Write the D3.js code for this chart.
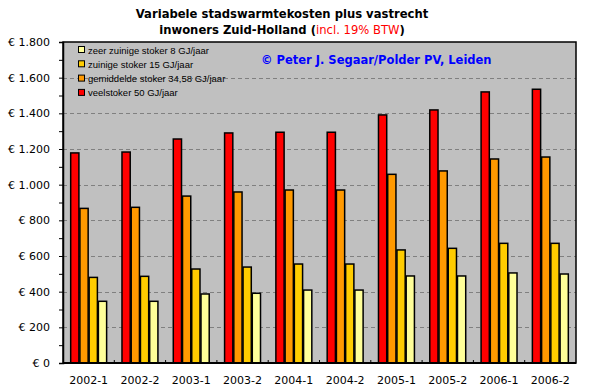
<!DOCTYPE html>
<html><head><meta charset="utf-8">
<script src="https://cdn.jsdelivr.net/npm/d3@7"></script>
<style>body{margin:0;background:#fff}svg{display:block}</style>
</head><body><svg id="c" width="590" height="391"></svg>
<script>
const categories = ["2002-1","2002-2","2003-1","2003-2","2004-1","2004-2","2005-1","2005-2","2006-1","2006-2"];
const veelstoker = [1178,1183,1256,1290,1294,1294,1391,1419,1520,1535];
const gemiddeld = [867,873,936,959,970,970,1058,1077,1144,1155];
const zuinig = [480,486,527,538,555,555,634,643,671,671];
const zeerZuinig = [346,346,387,391,409,409,488,488,505,499];
const seriesNames = ["veelstoker 50 GJ/jaar","gemiddelde stoker 34,58 GJ/jaar","zuinige stoker 15 GJ/jaar","zeer zuinige stoker 8 GJ/jaar"];
const colors = ["#FF0000","#FF9900","#FFCC00","#FFFF99"];
const yTicks = [0,200,400,600,800,1000,1200,1400,1600,1800];

const series = [veelstoker, gemiddeld, zuinig, zeerZuinig];
const svg = d3.select("#c");
const L=63, R=576, T=42, B=363;
const x = d3.scaleBand().domain(categories).range([L,R]).paddingInner(0.28).paddingOuter(0.14);
const xs = d3.scaleBand().domain(d3.range(4)).range([0,x.bandwidth()]);
const y = d3.scaleLinear().domain([0,1800]).range([B,T]);
const fmt = v => "€ " + d3.format(",")(v).replace(/,/g,".");

svg.append("rect").attr("x",L).attr("y",T).attr("width",R-L).attr("height",B-T).attr("fill","#C0C0C0");
svg.append("g").selectAll("line").data(yTicks.filter(v=>v>0&&v<1800)).join("line")
 .attr("x1",L).attr("x2",R).attr("y1",d=>Math.round(y(d))+0.5).attr("y2",d=>Math.round(y(d))+0.5)
 .attr("stroke","#808080").attr("stroke-dasharray","4,3");
const g = svg.append("g");
categories.forEach((c,i)=>{
  series.forEach((s,j)=>{
    g.append("rect").attr("x",x(c)+xs(j)+0.5).attr("y",y(s[i])).attr("width",xs.bandwidth()-1)
     .attr("height",B-y(s[i])).attr("fill",colors[j]).attr("stroke","#000").attr("stroke-width",1.5);
  });
});
svg.append("rect").attr("x",L).attr("y",T).attr("width",R-L).attr("height",B-T).attr("fill","none").attr("stroke","#000").attr("stroke-width",1.5);
const ya = svg.append("g").attr("transform",`translate(${L},0)`)
 .call(d3.axisLeft(y).tickValues(d3.range(0,1801,100)).tickSize(4).tickFormat(d=>d%200===0?fmt(d):""));
ya.select(".domain").attr("stroke","#000").attr("stroke-width",1.5);
ya.selectAll("text").attr("font-family","DejaVu Sans, Verdana").attr("font-size",11).attr("fill","#000").attr("dx",-6);
const xa = svg.append("g").attr("transform",`translate(0,${B})`);
xa.append("line").attr("x1",L).attr("x2",R).attr("y1",0).attr("y2",0).attr("stroke","#000").attr("stroke-width",2);
xa.selectAll("line.t").data(categories.slice(1)).join("line").attr("class","t")
 .attr("x1",d=>x(d)-x.step()*x.paddingInner()/2).attr("x2",d=>x(d)-x.step()*x.paddingInner()/2)
 .attr("y1",-3).attr("y2",0).attr("stroke","#000");
xa.selectAll("text").data(categories).join("text")
 .attr("x",d=>x(d)+x.bandwidth()/2).attr("y",21).attr("text-anchor","middle")
 .attr("font-family","DejaVu Sans, Verdana").attr("font-size",11).text(d=>d);
const t = svg.append("text").attr("text-anchor","middle").attr("font-family","DejaVu Sans, Verdana").attr("font-weight","bold").attr("font-size",11.6);
t.append("tspan").attr("x",282).attr("y",18).text("Variabele stadswarmtekosten plus vastrecht");
const t2 = t.append("tspan").attr("x",282).attr("y",34);
t2.append("tspan").text("inwoners Zuid-Holland (");
t2.append("tspan").attr("fill","#FF0000").attr("font-weight","normal").text("incl. 19% BTW");
t2.append("tspan").text(")");
svg.append("text").attr("x",261).attr("y",64).attr("font-family","DejaVu Sans, Verdana").attr("font-weight","bold").attr("font-size",11.5)
 .attr("fill","#0000FF").text("© Peter J. Segaar/Polder PV, Leiden");
const leg = svg.append("g");
[3,2,1,0].forEach((j,k)=>{
  const yy = 50 + k*14.3;
  leg.append("rect").attr("x",78.5).attr("y",yy-3.5).attr("width",6).attr("height",6).attr("fill",colors[j]).attr("stroke","#000");
  leg.append("text").attr("x",88).attr("y",yy+3.5).attr("font-family","Liberation Sans, Arial").attr("font-size",9.5).text(seriesNames[j]);
});
</script></body></html>
